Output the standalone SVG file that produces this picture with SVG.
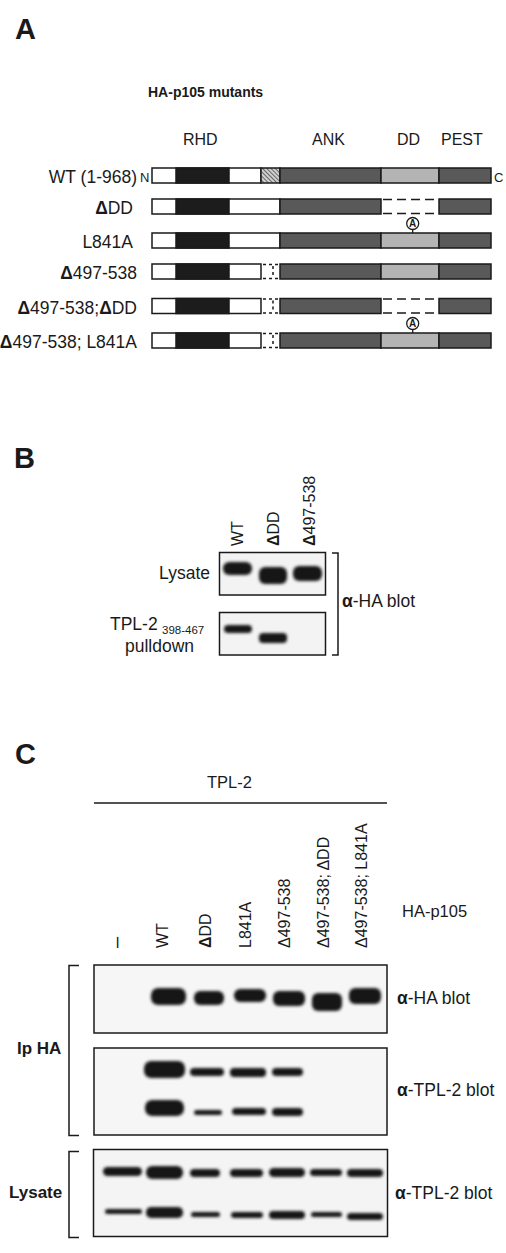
<svg xmlns="http://www.w3.org/2000/svg" width="506" height="1253" viewBox="0 0 506 1253">
<style>
text{font-family:"Liberation Sans",Arial,Helvetica,sans-serif;fill:#1a1a1a}
.pl{font-size:29px;font-weight:bold}
.lbl{font-size:17.5px}
.hdr{font-size:16px}
.b{font-weight:bold}
.seg{stroke:#1a1a1a;stroke-width:1.5}
.wh{fill:#fff}
.bk{fill:#1c1c1c}
.dk{fill:#595959}
.lt{fill:#b4b4b4}
.dash{stroke:#1a1a1a;stroke-width:1.5;stroke-dasharray:9 5;fill:none}
.dot{stroke:#1a1a1a;stroke-width:1.5;stroke-dasharray:3 3;fill:none}
.blot{fill:#f3f3f3;stroke:#1a1a1a;stroke-width:1.5}
.brk{fill:none;stroke:#1a1a1a;stroke-width:1.5}
.band{fill:#151515;filter:url(#blur)}
.lane{font-size:16px}
</style>
<defs>
<pattern id="hatch" width="3" height="3" patternUnits="userSpaceOnUse" patternTransform="rotate(-45)">
<rect width="3" height="3" fill="#cfcfcf"/>
<line x1="0" y1="0" x2="0" y2="3" stroke="#444" stroke-width="1.5"/>
</pattern>
<filter id="blur" x="-20%" y="-80%" width="140%" height="260%"><feGaussianBlur stdDeviation="1.7"/></filter>
<g id="acirc">
<circle cx="0" cy="0" r="6" fill="#fff" stroke="#1a1a1a" stroke-width="1.3"/>
<text x="0" y="3.6" text-anchor="middle" style="font-size:10px;font-weight:bold">A</text>
</g>
</defs>

<!-- Panel A -->
<g id="panelA">
<text class="pl" x="15" y="39">A</text>
<text x="148" y="97" style="font-size:14px;font-weight:bold">HA-p105 mutants</text>
<g id="domain-labels">
<text class="hdr" x="183" y="145">RHD</text>
<text class="hdr" x="312" y="145">ANK</text>
<text class="hdr" x="397" y="145">DD</text>
<text class="hdr" x="441" y="145">PEST</text>
</g>

<g id="row-wt">
<text class="lbl" x="137" y="183" text-anchor="end">WT (1-968)</text>
<text x="140" y="182" style="font-size:13px">N</text>
<rect class="seg wh" x="152" y="168" width="109" height="15"/>
<rect class="seg bk" x="176" y="168" width="53" height="15"/>
<rect class="seg" fill="url(#hatch)" x="261" y="168" width="19" height="15"/>
<rect class="seg dk" x="280" y="168" width="101" height="15"/>
<rect class="seg lt" x="381" y="168" width="58" height="15"/>
<rect class="seg dk" x="439" y="168" width="52" height="15"/>
<text x="494" y="182" style="font-size:13px">C</text>
</g>

<g id="row-dDD">
<text class="lbl" x="133" y="214" text-anchor="end"><tspan class="b">Δ</tspan>DD</text>
<rect class="seg wh" x="152" y="199" width="128" height="15"/>
<rect class="seg bk" x="176" y="199" width="53" height="15"/>
<rect class="seg dk" x="280" y="199" width="101" height="15"/>
<path class="dash" d="M383,199.5 H437 M383,213.5 H437"/>
<rect class="seg dk" x="439" y="199" width="52" height="15"/>
</g>

<g id="row-L841A">
<text class="lbl" x="133" y="248" text-anchor="end">L841A</text>
<rect class="seg wh" x="152" y="233" width="128" height="15"/>
<rect class="seg bk" x="176" y="233" width="53" height="15"/>
<rect class="seg dk" x="280" y="233" width="101" height="15"/>
<rect class="seg lt" x="381" y="233" width="58" height="15"/>
<rect class="seg dk" x="439" y="233" width="52" height="15"/>
<line x1="412.7" y1="229" x2="412.7" y2="233" stroke="#1a1a1a" stroke-width="1.3"/>
<use href="#acirc" x="412.7" y="223.5"/>
</g>

<g id="row-d497">
<text class="lbl" x="137" y="279" text-anchor="end"><tspan class="b">Δ</tspan>497-538</text>
<rect class="seg wh" x="152" y="264" width="109" height="15"/>
<rect class="seg bk" x="176" y="264" width="53" height="15"/>
<path class="dot" d="M263,264.5 H279 M263,278.5 H279 M273,266 V277"/>
<rect class="seg dk" x="280" y="264" width="101" height="15"/>
<rect class="seg lt" x="381" y="264" width="58" height="15"/>
<rect class="seg dk" x="439" y="264" width="52" height="15"/>
</g>

<g id="row-d497-dDD">
<text class="lbl" x="137" y="313.5" text-anchor="end"><tspan class="b">Δ</tspan>497-538;<tspan class="b">Δ</tspan>DD</text>
<rect class="seg wh" x="152" y="298.5" width="109" height="15"/>
<rect class="seg bk" x="176" y="298.5" width="53" height="15"/>
<path class="dot" d="M263,299 H279 M263,313 H279 M273,300.5 V311.5"/>
<rect class="seg dk" x="280" y="298.5" width="101" height="15"/>
<path class="dash" d="M383,299 H437 M383,313 H437"/>
<rect class="seg dk" x="439" y="298.5" width="52" height="15"/>
</g>

<g id="row-d497-L841A">
<text class="lbl" x="137" y="348" text-anchor="end"><tspan class="b">Δ</tspan>497-538; L841A</text>
<rect class="seg wh" x="152" y="333" width="109" height="15"/>
<rect class="seg bk" x="176" y="333" width="53" height="15"/>
<path class="dot" d="M263,333.5 H279 M263,347.5 H279 M273,335 V346"/>
<rect class="seg dk" x="280" y="333" width="101" height="15"/>
<rect class="seg lt" x="381" y="333" width="58" height="15"/>
<rect class="seg dk" x="439" y="333" width="52" height="15"/>
<line x1="412.7" y1="329" x2="412.7" y2="333" stroke="#1a1a1a" stroke-width="1.3"/>
<use href="#acirc" x="412.7" y="323.5"/>
</g>
</g>

<!-- Panel B -->
<g id="panelB">
<text class="pl" x="14" y="468">B</text>
<g id="b-lanes">
<text class="lane" transform="translate(243,546) rotate(-90)">WT</text>
<text class="lane" transform="translate(279,546) rotate(-90)"><tspan class="b">Δ</tspan>DD</text>
<text class="lane" transform="translate(315,546) rotate(-90)"><tspan class="b">Δ</tspan>497-538</text>
</g>
<g id="b-lysate">
<text class="lbl" x="210" y="579" text-anchor="end">Lysate</text>
<rect class="blot" x="219.5" y="552.5" width="106" height="42.5"/>
<rect class="band" x="223" y="562" width="29" height="13" rx="6"/>
<rect class="band" x="259" y="567" width="28" height="17" rx="6"/>
<rect class="band" x="293" y="566" width="29" height="15" rx="6"/>
</g>
<g id="b-pulldown">
<text class="lbl" x="110" y="630">TPL-2</text>
<text x="162" y="634" style="font-size:11.5px">398-467</text>
<text class="lbl" x="125" y="652">pulldown</text>
<rect class="blot" x="219.5" y="612.5" width="106" height="42.5"/>
<rect class="band" x="224" y="625" width="28" height="8" rx="4"/>
<rect class="band" x="259" y="633" width="28" height="10" rx="4"/>
</g>
<g id="b-bracket">
<path class="brk" d="M332,553 H338 V655 H332"/>
<text class="lbl" x="342" y="607"><tspan class="b">α</tspan>-HA blot</text>
</g>
</g>

<!-- Panel C -->
<g id="panelC">
<text class="pl" x="15" y="764">C</text>
<g id="c-header">
<text class="lbl" x="207" y="788" style="font-size:16.5px">TPL-2</text>
<line x1="94" y1="803" x2="387" y2="803" stroke="#1a1a1a" stroke-width="1.5"/>
<text class="lbl" x="402" y="917" style="font-size:16.5px">HA-p105</text>
</g>
<g id="c-lanes">
<text class="lane" transform="translate(123,948) rotate(-90)" style="font-size:20px">–</text>
<text class="lane" transform="translate(168,948) rotate(-90)">WT</text>
<text class="lane" transform="translate(211,948) rotate(-90)"><tspan class="b">Δ</tspan>DD</text>
<text class="lane" transform="translate(251,948) rotate(-90)">L841A</text>
<text class="lane" transform="translate(290,948) rotate(-90)">Δ497-538</text>
<text class="lane" transform="translate(329,948) rotate(-90)">Δ497-538; ΔDD</text>
<text class="lane" transform="translate(367,948) rotate(-90)">Δ497-538; L841A</text>
</g>
<g id="c-ipha">
<path class="brk" d="M79,965.5 H69 V1135.5 H79"/>
<text class="b" x="17" y="1054" style="font-size:17px">Ip HA</text>
</g>
<g id="c-ha-blot">
<rect class="blot" x="94" y="965" width="293" height="68" style="fill:#f6f6f6"/>
<rect class="band" x="151" y="988" width="35" height="17" rx="7"/>
<rect class="band" x="194" y="991" width="30" height="14" rx="6"/>
<rect class="band" x="234" y="989" width="32" height="13" rx="6"/>
<rect class="band" x="273" y="991" width="32" height="15" rx="6"/>
<rect class="band" x="312" y="993" width="30" height="18" rx="6"/>
<rect class="band" x="349" y="988" width="32" height="16" rx="6"/>
<text class="lbl" x="397" y="1004"><tspan class="b">α</tspan>-HA blot</text>
</g>
<g id="c-tpl-blot">
<rect class="blot" x="94" y="1048" width="293" height="87" style="fill:#f6f6f6"/>
<rect class="band" x="144" y="1061" width="41" height="17" rx="7"/>
<rect class="band" x="190" y="1068" width="34" height="8" rx="4"/>
<rect class="band" x="230" y="1068" width="36" height="9" rx="4"/>
<rect class="band" x="272" y="1068" width="31" height="8" rx="4"/>
<rect class="band" x="145" y="1100" width="39" height="16" rx="7"/>
<rect class="band" x="194" y="1110" width="28" height="5" rx="2.5"/>
<rect class="band" x="232" y="1108" width="34" height="7" rx="3.5"/>
<rect class="band" x="272" y="1108" width="31" height="8" rx="4"/>
<text class="lbl" x="397" y="1096"><tspan class="b">α</tspan>-TPL-2 blot</text>
</g>
<g id="c-lysate">
<path class="brk" d="M79,1151.5 H69 V1237.5 H79"/>
<text class="b" x="9" y="1198" style="font-size:17px">Lysate</text>
<rect class="blot" x="93.5" y="1149.5" width="294" height="87" style="fill:#f4f4f4"/>
<rect class="band" x="103" y="1167" width="39" height="9" rx="4.5"/>
<rect class="band" x="146" y="1166" width="37" height="13" rx="6"/>
<rect class="band" x="190" y="1169" width="30" height="8" rx="4"/>
<rect class="band" x="230" y="1169" width="33" height="8" rx="4"/>
<rect class="band" x="269" y="1168" width="36" height="9" rx="4.5"/>
<rect class="band" x="310" y="1169" width="32" height="7" rx="3.5"/>
<rect class="band" x="347" y="1169" width="36" height="8" rx="4"/>
<rect class="band" x="105" y="1209" width="37" height="5" rx="2.5"/>
<rect class="band" x="146" y="1207" width="37" height="11" rx="5"/>
<rect class="band" x="191" y="1212" width="29" height="5" rx="2.5"/>
<rect class="band" x="231" y="1212" width="32" height="6" rx="3"/>
<rect class="band" x="269" y="1211" width="36" height="8" rx="4"/>
<rect class="band" x="311" y="1212" width="31" height="5" rx="2.5"/>
<rect class="band" x="347" y="1213" width="36" height="7" rx="3.5"/>
<text class="lbl" x="395" y="1199"><tspan class="b">α</tspan>-TPL-2 blot</text>
</g>
</g>
</svg>
